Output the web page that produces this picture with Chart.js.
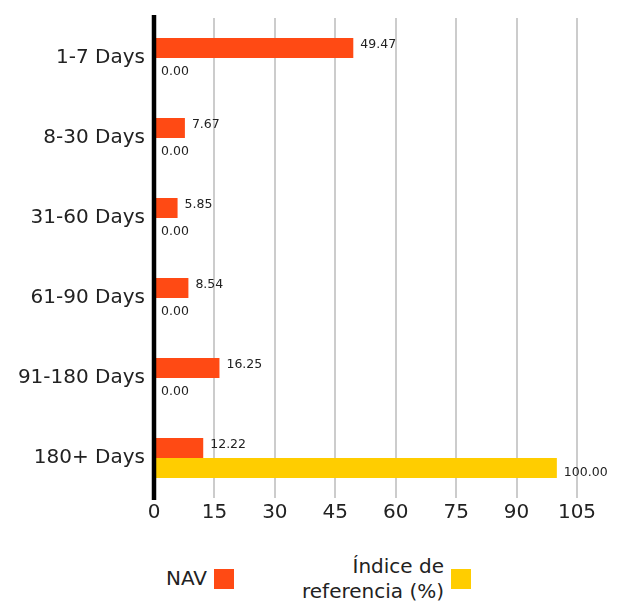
<!DOCTYPE html>
<html>
<head>
<meta charset="utf-8">
<script src="https://cdn.jsdelivr.net/npm/chart.js@4/dist/chart.umd.min.js"></script>
<style>
  body { margin: 0; background: #fff; font-family: "DejaVu Sans", sans-serif; }
  #wrap { position: relative; width: 626px; height: 608px; }
  #box { position: absolute; left: 0; top: 0; width: 626px; height: 530px; }
  .leg { position: absolute; color: #222; font-size: 20px; line-height: 25px; text-align: right; }
  .sw { position: absolute; width: 20px; height: 20px; }
</style>
</head>
<body>
<div id="wrap">
  <div id="box"><canvas id="chart"></canvas></div>
  <div class="leg" style="left:140px; top:566px; width:67px;">NAV</div>
  <div class="sw" style="left:214px; top:569px; background:#FF4A14;"></div>
  <div class="leg" style="left:240px; top:554px; width:204px;">Índice de<br>referencia (%)</div>
  <div class="sw" style="left:451px; top:569px; background:#FFCD00;"></div>
</div>
<script>
// data
var categories = ["1-7 Days", "8-30 Days", "31-60 Days", "61-90 Days", "91-180 Days", "180+ Days"];
var navValues = [49.47, 7.67, 5.85, 8.54, 16.25, 12.22];
var indexValues = [0.00, 0.00, 0.00, 0.00, 0.00, 100.00];
var seriesNames = ["NAV", "Índice de referencia (%)"];

// value labels next to each bar + the black zero line
var valueLabels = {
  id: "valueLabels",
  afterDatasetsDraw: function (chart) {
    var ctx = chart.ctx;
    var area = chart.chartArea;
    ctx.save();
    ctx.strokeStyle = "#000";
    ctx.lineWidth = 4.5;
    ctx.beginPath();
    ctx.moveTo(area.left, area.top - 3);
    ctx.lineTo(area.left, area.bottom + 2);
    ctx.stroke();

    ctx.font = "12.5px 'DejaVu Sans', sans-serif";
    ctx.fillStyle = "#222";
    ctx.textBaseline = "middle";
    ctx.textAlign = "left";
    chart.data.datasets.forEach(function (ds, i) {
      var meta = chart.getDatasetMeta(i);
      meta.data.forEach(function (bar, j) {
        var dy = i === 0 ? -3 : 4;
        if (i === 1 && ds.data[j] > 0) dy = 5;
        ctx.fillText(ds.data[j].toFixed(2), bar.x + 7, bar.y + dy);
      });
    });
    ctx.restore();
  }
};

new Chart(document.getElementById("chart"), {
  type: "bar",
  data: {
    labels: categories,
    datasets: [
      { label: seriesNames[0], data: navValues, backgroundColor: "#FF4A14", borderWidth: 0 },
      { label: seriesNames[1], data: indexValues, backgroundColor: "#FFCD00", borderWidth: 0 }
    ]
  },
  options: {
    indexAxis: "y",
    responsive: true,
    maintainAspectRatio: false,
    animation: false,
    categoryPercentage: 0.5,
    barPercentage: 1.0,
    layout: { padding: { top: 18, right: 49, left: 0, bottom: 0 } },
    plugins: { legend: { display: false }, tooltip: { enabled: false } },
    scales: {
      x: {
        min: 0,
        max: 105,
        ticks: { stepSize: 15, color: "#222", font: { size: 20, family: "'DejaVu Sans', sans-serif" }, padding: 3 },
        grid: {
          color: function (c) { return c.tick && c.tick.value === 0 ? "rgba(0,0,0,0)" : "#cccccc"; },
          lineWidth: 2,
          drawTicks: false
        },
        border: { display: false },
        afterFit: function (s) { s.height = 32; }
      },
      y: {
        ticks: { color: "#222", font: { size: 20, family: "'DejaVu Sans', sans-serif" }, padding: 1 },
        grid: { display: false },
        border: { display: false },
        afterFit: function (s) { s.width = 154; }
      }
    }
  },
  plugins: [valueLabels]
});
</script>
</body>
</html>
